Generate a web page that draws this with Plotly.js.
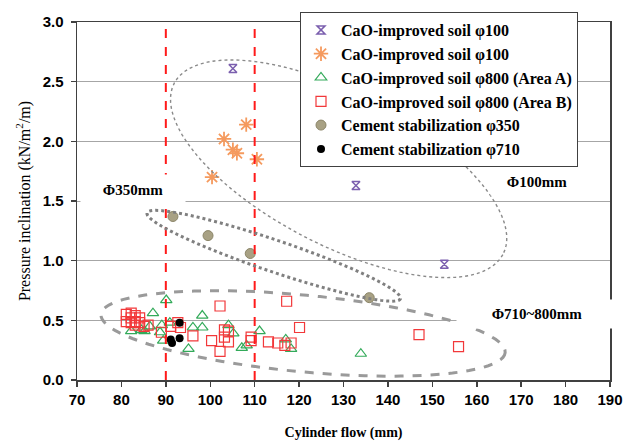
<!DOCTYPE html>
<html>
<head>
<meta charset="utf-8">
<script src="https://cdn.plot.ly/plotly-3.0.1.min.js"></script>
<style>html,body{margin:0;padding:0;background:#fff;}#chart{width:638px;height:446px;}</style>
</head>
<body>
<div id="chart"></div>
<script>
// ---- data ----
var seriesNames = [
  "CaO-improved soil \u03c6100",
  "CaO-improved soil \u03c6100",
  "CaO-improved soil \u03c6800 (Area A)",
  "CaO-improved soil \u03c6800 (Area B)",
  "Cement stabilization \u03c6350",
  "Cement stabilization \u03c6710"
];
var purpleX = [105.1, 132.8, 152.7];
var purpleY = [2.61, 1.63, 0.97];
var orangeX = [108.1, 103.1, 105.1, 106.0, 110.5, 100.4];
var orangeY = [2.14, 2.02, 1.93, 1.90, 1.85, 1.70];
var greenX = [82.2, 84.5, 85.2, 86.4, 87.1, 88.7, 89.4, 90.1, 90.9, 89.1, 95.1, 96.1, 98.2, 98.2, 104.1, 105.2, 107.1, 108.2, 111.1, 117.0, 118.2, 133.9];
var greenY = [0.41, 0.42, 0.41, 0.45, 0.56, 0.40, 0.33, 0.67, 0.48, 0.46, 0.26, 0.44, 0.54, 0.44, 0.46, 0.39, 0.27, 0.29, 0.41, 0.34, 0.26, 0.22];
var redX = [81.1, 81.1, 82.2, 82.2, 82.2, 83.1, 83.1, 83.1, 84.1, 84.1, 85.1, 86.0, 89.0, 91.1, 92.7, 93.3, 96.1, 100.3, 102.2, 102.2, 103.2, 103.2, 104.1, 104.1, 109.2, 109.2, 113.1, 115.2, 116.8, 118.2, 117.2, 120.1, 147.0, 155.9];
var redY = [0.55, 0.49, 0.56, 0.52, 0.48, 0.54, 0.49, 0.46, 0.52, 0.48, 0.45, 0.46, 0.40, 0.45, 0.48, 0.44, 0.37, 0.33, 0.62, 0.24, 0.42, 0.36, 0.41, 0.32, 0.36, 0.33, 0.32, 0.31, 0.29, 0.31, 0.66, 0.44, 0.38, 0.28];
var grayX = [91.6, 99.5, 109.0, 135.8];
var grayY = [1.37, 1.21, 1.06, 0.69];
var blackX = [93.1, 91.1, 91.4, 93.1];
var blackY = [0.48, 0.34, 0.31, 0.35];
var xTickVals = [70, 80, 90, 100, 110, 120, 130, 140, 150, 160, 170, 180, 190];
var yTickVals = [0, 0.5, 1.0, 1.5, 2.0, 2.5, 3.0];
var limitLines = [90, 110];

// ---- layout geometry ----
var W = 638, H = 446;
var M = {l: 77, r: 28, t: 16, b: 66, pad: 0};
var xRange = [70, 190], yRange = [0, 3];
var kx = (W - M.l - M.r) / (xRange[1] - xRange[0]);
var ky = (H - M.t - M.b) / (yRange[1] - yRange[0]);

// rotated ellipse (semi-axes in screen px, angle clockwise on screen) as data-coord path
function ellipsePath(cx, cy, a, b, angDeg) {
  var t = angDeg * Math.PI / 180, s = '';
  for (var i = 0; i <= 96; i++) {
    var th = 2 * Math.PI * i / 96;
    var u = a * Math.cos(th), v = b * Math.sin(th);
    var dx = u * Math.cos(t) - v * Math.sin(t);
    var dy = u * Math.sin(t) + v * Math.cos(t); // screen y down
    var x = cx + dx / kx, y = cy - dy / ky;
    s += (i === 0 ? 'M' : 'L') + x.toFixed(3) + ',' + y.toFixed(4);
  }
  return s + 'Z';
}

var serif = 'Liberation Serif, Times New Roman, serif';
var sans = 'Liberation Sans, Arial, sans-serif';

var traces = [
  {x: purpleX, y: purpleY, name: seriesNames[0], mode: 'markers', type: 'scatter',
   marker: {symbol: 'hourglass-open', size: 8, color: '#7b5fae', line: {width: 1.5, color: '#7b5fae'}}},
  {x: orangeX, y: orangeY, name: seriesNames[1], mode: 'markers', type: 'scatter',
   marker: {symbol: 'asterisk-open', size: 12, color: '#f59a5e', line: {width: 1.8, color: '#f59a5e'}}},
  {x: greenX, y: greenY, name: seriesNames[2], mode: 'markers', type: 'scatter',
   marker: {symbol: 'triangle-up-open', size: 10, color: '#33aa5a', line: {width: 1.2}}},
  {x: redX, y: redY, name: seriesNames[3], mode: 'markers', type: 'scatter',
   marker: {symbol: 'square-open', size: 10, color: '#f2383a', line: {width: 1.2}}},
  {x: grayX, y: grayY, name: seriesNames[4], mode: 'markers', type: 'scatter',
   marker: {symbol: 'circle', size: 10, color: '#a8a184', line: {width: 1, color: '#8c8669'}}},
  {x: blackX, y: blackY, name: seriesNames[5], mode: 'markers', type: 'scatter',
   marker: {symbol: 'circle', size: 8, color: '#000000'}}
];

var shapes = [];
limitLines.forEach(function (v) {
  shapes.push({type: 'line', xref: 'x', yref: 'y', x0: v, x1: v, y0: yRange[0], y1: yRange[1],
    line: {color: '#ff1a1a', width: 2, dash: 'dash'}, layer: 'above'});
});
shapes.push({type: 'path', xref: 'x', yref: 'y', path: ellipsePath(128.9, 1.77, 186, 77, 28),
  line: {color: '#8a8a8a', width: 1.4, dash: 'dot'}, layer: 'above'});
shapes.push({type: 'path', xref: 'x', yref: 'y', path: ellipsePath(114.3, 1.041, 134, 16, 19),
  line: {color: '#808080', width: 3, dash: 'dot'}, layer: 'above'});
shapes.push({type: 'path', xref: 'x', yref: 'y', path: ellipsePath(120.9, 0.39, 203, 39, 5.5),
  line: {color: '#9a9a9a', width: 3, dash: 'dash'}, layer: 'above'});

var annFont = {family: serif, size: 15, color: '#000', weight: 'bold'};
var annotations = [
  {xref: 'x', yref: 'y', x: 82.5, y: 1.59, text: '\u03a6350mm', showarrow: false, font: annFont,
   bgcolor: '#ffffff', width: 104, height: 30, borderpad: 0},
  {xref: 'x', yref: 'y', x: 173.5, y: 1.66, text: '\u03a6100mm', showarrow: false, font: annFont,
   bgcolor: '#ffffff', width: 92, height: 26, borderpad: 0},
  {xref: 'x', yref: 'y', x: 173.5, y: 0.55, text: '\u03a6710~800mm', showarrow: false, font: annFont,
   bgcolor: '#ffffff', width: 160, height: 28, borderpad: 0}
];

var layout = {
  width: W, height: H, margin: M,
  paper_bgcolor: '#ffffff', plot_bgcolor: '#ffffff',
  showlegend: true,
  legend: {x: (300 - M.l) / (W - M.l - M.r), y: 1.028, xanchor: 'left', yanchor: 'top',
    bgcolor: '#ffffff', bordercolor: '#404040', borderwidth: 1,
    font: {family: serif, size: 16, color: '#000', weight: 'bold'}},
  xaxis: {range: xRange, tickvals: xTickVals, ticks: 'outside', ticklen: 5, tickwidth: 1.5, tickcolor: '#404040',
    showline: true, linecolor: '#404040', linewidth: 1.5, mirror: true, showgrid: false, zeroline: false,
    tickfont: {family: sans, size: 15, color: '#000', weight: 'bold'},
    title: {text: 'Cylinder flow (mm)', font: {family: serif, size: 14, color: '#000', weight: 'bold'}, standoff: 20}},
  yaxis: {range: yRange, tickvals: yTickVals, tickformat: '.1f', ticks: 'outside', ticklen: 5, tickwidth: 1.5, tickcolor: '#404040',
    ticklabelstandoff: 4,
    showline: true, linecolor: '#404040', linewidth: 1.5, mirror: true, showgrid: true, gridcolor: '#a6a6a6', gridwidth: 1, zeroline: false,
    tickfont: {family: sans, size: 15, color: '#000', weight: 'bold'},
    title: {text: 'Pressure inclination (kN/m<sup>2</sup>/m)', font: {family: serif, size: 16, color: '#000'}, standoff: 8}},
  shapes: shapes,
  annotations: annotations
};

Plotly.newPlot('chart', traces, layout, {displayModeBar: false, staticPlot: true});
</script>
</body>
</html>
